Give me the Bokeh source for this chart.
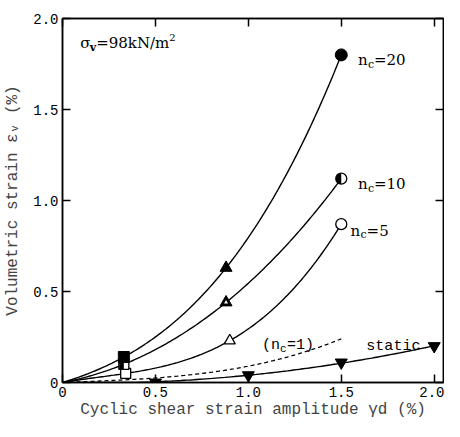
import numpy as np
from math import pi
from bokeh.plotting import figure
from bokeh.models import Range1d, LinearAxis, Label, FixedTicker, ColumnDataSource
from bokeh.transform import dodge
from bokeh.embed import file_html
from bokeh.resources import INLINE

# ---- data ----
x_ticks = [0, 0.5, 1.0, 1.5, 2.0]
x_tick_labels = ["0", "0.5", "1.0", "1.5", "2.0"]
y_ticks = [0, 0.5, 1.0, 1.5, 2.0]
y_tick_labels = ["0", "0.5", "1.0", "1.5", "2.0"]

nc20_x = [0.33, 0.88, 1.50]
nc20_y = [0.14, 0.63, 1.80]
nc10_x = [0.33, 0.88, 1.50]
nc10_y = [0.10, 0.44, 1.12]
nc5_x = [0.34, 0.90, 1.50]
nc5_y = [0.05, 0.23, 0.87]
nc1_x = [0.5, 1.0, 1.5]
nc1_y = [0.025, 0.09, 0.24]
static_x = [0.5, 1.0, 1.5, 2.0]
static_y = [0.0, 0.04, 0.11, 0.20]

MONO = "Liberation Mono"
SERIF = "DejaVu Serif"

p = figure(width=444, height=421, output_backend="svg", toolbar_location=None,
           x_range=Range1d(0, 2.05), y_range=Range1d(0, 2.0),
           min_border_left=62, min_border_right=1, min_border_top=18, min_border_bottom=38,
           x_axis_type=None, y_axis_type=None)
p.grid.visible = False
p.outline_line_color = "black"
p.outline_line_width = 1.5
p.background_fill_color = "white"
p.border_fill_color = "white"


def style_axis(ax, ticks, labels, show_labels):
    ax.ticker = FixedTicker(ticks=ticks)
    ax.minor_tick_line_color = None
    ax.major_tick_in = 8
    ax.major_tick_out = 0
    ax.major_tick_line_width = 1.5
    ax.axis_line_width = 1.5
    ax.axis_line_color = "black"
    ax.major_tick_line_color = "black"
    ax.major_label_text_font = MONO
    ax.major_label_text_color = "black"
    if show_labels:
        ax.major_label_overrides = {t: l for t, l in zip(ticks, labels)}
        ax.major_label_text_font_size = "14px"
        ax.major_label_standoff = 4
    else:
        ax.major_label_overrides = {t: "" for t in ticks}
        ax.major_label_text_font_size = "1px"
        ax.major_label_standoff = 0


xb = LinearAxis(axis_label="Cyclic shear strain amplitude γd (%)")
style_axis(xb, x_ticks, x_tick_labels, True)
xb.axis_label_text_font = MONO
xb.axis_label_text_font_size = "16px"
xb.axis_label_text_font_style = "normal"
xb.axis_label_standoff = 1
p.add_layout(xb, "below")

yl = LinearAxis(axis_label="Volumetric strain εᵥ (%)")
style_axis(yl, y_ticks, y_tick_labels, True)
yl.axis_label_text_font = MONO
yl.axis_label_text_font_size = "16px"
yl.axis_label_text_font_style = "normal"
yl.axis_label_standoff = 8
p.add_layout(yl, "left")

xt = LinearAxis()
style_axis(xt, x_ticks, x_tick_labels, False)
p.add_layout(xt, "above")
yr = LinearAxis()
style_axis(yr, y_ticks, y_tick_labels, False)
p.add_layout(yr, "right")


def cubic_curve(xs, ys, n=120):
    xx = np.array([0.0] + list(xs))
    yy = np.array([0.0] + list(ys))
    c = np.polyfit(xx, yy, 3)
    t = np.linspace(0, max(xs), n)
    return t, np.polyval(c, t)


for xs, ys in [(nc20_x, nc20_y), (nc10_x, nc10_y), (nc5_x, nc5_y)]:
    t, v = cubic_curve(xs, ys)
    p.line(t, v, line_color="black", line_width=1.4)

t, v = cubic_curve(nc1_x, nc1_y)
p.line(t, v, line_color="black", line_width=1.3, line_dash="4 3")

sx = np.array([0.0] + static_x)
sy = np.array([0.0] + static_y)
cs = np.polyfit(sx, sy, 2)
ts = np.linspace(0, max(static_x), 120)
p.line(ts, np.clip(np.polyval(cs, ts), 0, None), line_color="black", line_width=1.4)

# markers: nc=5 (open)
p.scatter([nc5_x[0]], [nc5_y[0]], marker="square", size=10, fill_color="white", line_color="black", line_width=1.3)
p.scatter([nc5_x[1]], [nc5_y[1]], marker="triangle", size=11, fill_color="white", line_color="black", line_width=1.3)
p.scatter([nc5_x[2]], [nc5_y[2]], marker="circle", size=11, fill_color="white", line_color="black", line_width=1.3)

# nc=10 (half filled)
p.scatter([nc10_x[0]], [nc10_y[0]], marker="square", size=10, fill_color="white", line_color="black", line_width=1.3)
src_half = ColumnDataSource(dict(x=[nc10_x[0]], y=[nc10_y[0]]))
p.rect(x=dodge("x", -0.0125, range=p.x_range), y="y", width=0.025, height=10, height_units="screen",
       fill_color="black", line_color=None, source=src_half)
p.scatter([nc10_x[1]], [nc10_y[1]], marker="triangle", size=12, fill_color="black", line_color="black")
p.scatter([nc10_x[1]], [nc10_y[1]], marker="triangle", size=4, fill_color="white", line_color=None)
p.scatter([nc10_x[2]], [nc10_y[2]], marker="circle", size=11, fill_color="white", line_color="black", line_width=1.3)
p.wedge([nc10_x[2]], [nc10_y[2]], radius=5.5, radius_units="screen", start_angle=pi / 2, end_angle=3 * pi / 2,
        fill_color="black", line_color=None)

# nc=20 (filled)
p.scatter([nc20_x[0]], [nc20_y[0]], marker="square", size=11, fill_color="black", line_color="black")
p.scatter([nc20_x[1]], [nc20_y[1]], marker="triangle", size=12, fill_color="black", line_color="black")
p.scatter([nc20_x[2]], [nc20_y[2]], marker="circle", size=12, fill_color="black", line_color="black")

# static
p.scatter(static_x, static_y, marker="inverted_triangle", size=12, fill_color="black", line_color="black")


def lab(x, y, text, font, size, xo=0, yo=0, angle=0, style="normal"):
    p.add_layout(Label(x=x, y=y, text=text, text_font=font, text_font_size=f"{size}px",
                       x_offset=xo, y_offset=yo, angle=angle, text_color="black",
                       text_align="left", text_baseline="alphabetic", text_font_style=style))


# sigma_v = 98kN/m^2
lab(0.095, 1.865, "σ", SERIF, 15)
lab(0.095, 1.865, "v", SERIF, 11, xo=9.5, yo=-4, style="bold")
lab(0.095, 1.865, "=98kN/m", SERIF, 15, xo=16)
lab(0.095, 1.865, "2", SERIF, 10, xo=89, yo=6)

# nc labels
for (lx, ly, rest) in [(1.59, 1.77, "=20"), (1.59, 1.09, "=10"), (1.55, 0.835, "=5")]:
    lab(lx, ly, "n", SERIF, 15)
    lab(lx, ly, "c", SERIF, 11, xo=10, yo=-4)
    lab(lx, ly, rest, SERIF, 15, xo=16)

# (nc=1)
lab(1.074, 0.205, "(n", MONO, 15)
lab(1.074, 0.205, "c", MONO, 11, xo=18, yo=-4)
lab(1.074, 0.205, "=1)", MONO, 15, xo=25)

lab(1.635, 0.20, "static", MONO, 15)

open("out.html", "w").write(file_html(p, INLINE))
